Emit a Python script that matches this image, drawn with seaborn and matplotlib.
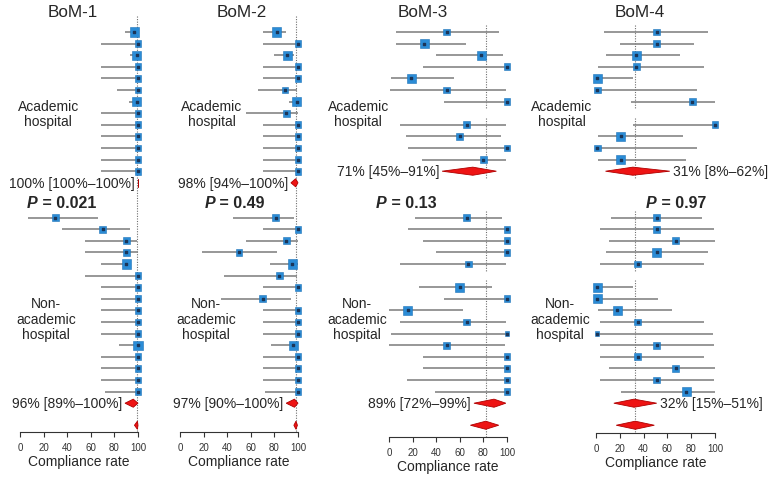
import matplotlib
matplotlib.use("Agg")
import matplotlib.pyplot as plt
import numpy as np
import pandas as pd
import seaborn as sns
from matplotlib.patches import Polygon

nan = np.nan

# ---- data: hospital estimates, 95% CI and weight class (0 small, 1 normal, 2 large)
BOM1_AC_EST = [97, 100, 99, 100, 100, 100, 99, 100, 100, 100, 100, 100, 100]
BOM1_AC_LO = [89, 69, 93, 69, 69, 82, 92, 69, 69, 69, 69, 69, 69]
BOM1_AC_HI = [100, 100, 100, 100, 100, 100, 100, 100, 100, 100, 100, 100, 100]
BOM1_AC_W = [2, 1, 2, 1, 1, 1, 2, 1, 1, 1, 1, 1, 1]
BOM1_NON_EST = [30, 70, 90, 90, 90, 100, 100, 100, 100, 100, 100, 100, 100, 100, 100, 100]
BOM1_NON_LO = [7, 36, 55, 55, 69, 55, 69, 69, 69, 69, 69, 84, 69, 69, 69, 72]
BOM1_NON_HI = [66, 93, 99, 100, 94, 100, 100, 100, 100, 100, 100, 100, 100, 100, 100, 100]
BOM1_NON_W = [1, 1, 1, 1, 2, 1, 1, 1, 1, 1, 1, 2, 1, 1, 1, 1]
BOM1_AC_SUM = [100, 100, 100]
BOM1_NON_SUM = [96, 89, 100]
BOM1_ALL = [99.5, 97, 100]
BOM1_P = "0.021"

BOM2_AC_EST = [82, 100, 91, 100, 100, 89, 99, 90, 100, 100, 100, 100, 100]
BOM2_AC_LO = [70, 70, 80, 70, 70, 66, 92, 56, 70, 70, 70, 70, 70]
BOM2_AC_HI = [90, 100, 97, 100, 100, 99, 100, 100, 100, 100, 100, 100, 100]
BOM2_AC_W = [2, 1, 2, 1, 1, 1, 2, 1, 1, 1, 1, 1, 1]
BOM2_NON_EST = [81, 100, 90, 50, 95, 84, 100, 70, 100, 100, 100, 96, 100, 100, 100, 100]
BOM2_NON_LO = [45, 70, 56, 19, 76, 37, 70, 35, 70, 70, 70, 77, 70, 70, 70, 72]
BOM2_NON_HI = [97, 100, 100, 82, 100, 99, 100, 94, 100, 100, 100, 100, 100, 100, 100, 100]
BOM2_NON_W = [1, 1, 1, 1, 2, 1, 1, 1, 1, 1, 1, 2, 1, 1, 1, 1]
BOM2_AC_SUM = [98, 94, 100]
BOM2_NON_SUM = [97, 90, 100]
BOM2_ALL = [98.3, 96.5, 99.5]
BOM2_P = "0.49"

BOM3_AC_EST = [49, 30, 78, 100, 19, 49, 100, nan, 66, 60, 100, 80]
BOM3_AC_LO = [6, 6, 40, 29, 2, 1, 47, nan, 9, 14, 16, 28]
BOM3_AC_HI = [93, 65, 97, 100, 55, 99, 100, nan, 99, 95, 100, 99]
BOM3_AC_W = [1, 2, 2, 1, 2, 1, 1, nan, 1, 1, 1, 1]
BOM3_NON_EST = [66, 100, 100, 100, 67, nan, 60, 100, 16, 66, 100, 49, 100, 100, 100, 100]
BOM3_NON_LO = [22, 16, 29, 40, 9, nan, 25, 47, 0, 9, 2, 0, 29, 29, 15, 39]
BOM3_NON_HI = [96, 100, 100, 100, 99, nan, 87, 100, 63, 99, 100, 98, 100, 100, 100, 100]
BOM3_NON_W = [1, 1, 1, 1, 1, nan, 2, 1, 2, 1, 0, 1, 1, 1, 1, 1]
BOM3_AC_SUM = [71, 45, 91]
BOM3_NON_SUM = [89, 72, 99]
BOM3_ALL = [82, 69, 93]
BOM3_P = "0.13"

BOM4_AC_EST = [51, 51, 34, 34, 1, 1, 81, nan, 100, 21, 1, 21]
BOM4_AC_LO = [7, 20, 8, 2, 0, 0, 29, nan, 31, 2, 0, 2]
BOM4_AC_HI = [94, 82, 71, 91, 31, 85, 100, nan, 100, 73, 85, 76]
BOM4_AC_W = [1, 1, 2, 1, 2, 1, 1, nan, 1, 2, 1, 2]
BOM4_NON_EST = [51, 51, 67, 51, 35, nan, 1, 1, 18, 35, 1, 51, 35, 67, 51, 76]
BOM4_NON_LO = [13, 3, 11, 8, 3, nan, 0, 0, 2, 3, 0, 3, 3, 11, 3, 21]
BOM4_NON_HI = [89, 99, 100, 94, 91, nan, 31, 52, 64, 91, 98, 99, 91, 100, 99, 100]
BOM4_NON_W = [1, 1, 1, 2, 1, nan, 2, 2, 2, 1, 0, 1, 1, 1, 1, 2]
BOM4_AC_SUM = [31, 8, 62]
BOM4_NON_SUM = [32, 15, 51]
BOM4_ALL = [33, 17, 49]
BOM4_P = "0.97"

TICKS = [0, 20, 40, 60, 80, 100]

# ---- layout (pixels of the 778x481 canvas, row slots)
W, H = 778, 481
Y0, ROW = 33, 11.6  # pixel of slot 0, pixels per slot
TOP_PX = 6
NON_START = 16
ALL_SLOT = 33.9
TITLE_SLOT = -1.8
P_SLOT = 14.7
AC_LABEL_SLOT = 7.0
NON_LABEL_SLOT = 24.7

LAYOUT = {
    "BoM-1": dict(px0=20, px100=138, axis_px=433, title_x=45, ac_x=24, non_x=22, p_x=15, side="left", gaps=False),
    "BoM-2": dict(px0=180, px100=298, axis_px=433, title_x=52, ac_x=27, non_x=22, p_x=30, side="left", gaps=False),
    "BoM-3": dict(px0=389, px100=507, axis_px=438, title_x=29, ac_x=-26, non_x=-27, p_x=-2, side="left", gaps=True),
    "BoM-4": dict(px0=596, px100=715, axis_px=434, title_x=37, ac_x=-29, non_x=-30, p_x=51, side="right", gaps=True),
}

BLUE = "#2b8cd6"
BLUE_EDGE = "#1f74b8"
DOT = "#1b3558"
GREY = "#858585"
RED = "#ee1414"
RED_EDGE = "#b00000"
SQUARE_SIZES = {0: 10, 1: 25, 2: 42}


def slot_of(px):
    return (px - Y0) / ROW


def group_frame(est, lo, hi, w, start):
    df = pd.DataFrame({"est": est, "lo": lo, "hi": hi, "w": w})
    df["slot"] = np.arange(len(df)) + start
    return df


def draw_diamond(ax, summary, slot, half=0.35):
    est, lo, hi = summary
    poly = Polygon([(lo, slot), (est, slot - half), (hi, slot), (est, slot + half)],
                   closed=True, facecolor=RED, edgecolor=RED_EDGE, linewidth=0.6,
                   zorder=4, clip_on=False)
    ax.add_patch(poly)


def ref_segments(ac, non, axis_slot, gaps):
    if not gaps:
        return [(-1.4, axis_slot)]
    segs = []
    for df, end in ((ac, ac["slot"].max() + 1), (non, non["slot"].max() + 1)):
        filled = list(df.loc[df["est"].notna(), "slot"]) + [end]
        run_start = filled[0]
        prev = filled[0]
        for s in filled[1:]:
            if s != prev + 1:
                segs.append((run_start - 0.6, prev + 0.6))
                run_start = s
            prev = s
        segs.append((run_start - 0.6, prev + 0.6))
    # last run continues down to the axis
    segs[-1] = (segs[-1][0], axis_slot)
    return segs


def draw_panel(fig, name, ac, non, ac_sum, non_sum, overall, p_value):
    lay = LAYOUT[name]
    axis_slot = slot_of(lay["axis_px"])
    ax = fig.add_axes([lay["px0"] / W, 1 - lay["axis_px"] / H,
                       (lay["px100"] - lay["px0"]) / W, (lay["axis_px"] - TOP_PX) / H])

    rows = pd.concat([ac, non], ignore_index=True).dropna()
    ax.hlines(rows["slot"], rows["lo"], rows["hi"], color=GREY, linewidth=1.2, zorder=2, clip_on=False)
    sns.scatterplot(data=rows, x="est", y="slot", size="w", sizes=SQUARE_SIZES, marker="s",
                    color=BLUE, edgecolor=BLUE_EDGE, linewidth=0.4, legend=False, ax=ax,
                    zorder=3, clip_on=False)
    ax.scatter(rows["est"], rows["slot"], s=1.2, marker="s", color=DOT, zorder=4, clip_on=False)

    ac_slot = ac["slot"].max() + 1
    non_slot = non["slot"].max() + 1
    for summary, slot in ((ac_sum, ac_slot), (non_sum, non_slot)):
        draw_diamond(ax, summary, slot)
        est, lo, hi = summary
        label = f"{est}% [{lo}%\u2013{hi}%]"
        if lay["side"] == "left":
            ax.annotate(label, (lo, slot), xytext=(-2.2, 0), textcoords="offset points",
                        ha="right", va="center", fontsize=10, annotation_clip=False)
        else:
            ax.annotate(label, (hi, slot), xytext=(2.2, 0), textcoords="offset points",
                        ha="left", va="center", fontsize=10, annotation_clip=False)
    draw_diamond(ax, overall, ALL_SLOT)

    for top, bottom in ref_segments(ac, non, axis_slot, lay["gaps"]):
        ax.vlines(overall[0], top, bottom, color="#6f6f6f", linestyle=(0, (1, 1.3)),
                  linewidth=0.8, zorder=1, clip_on=False)

    ax.text(lay["title_x"], TITLE_SLOT, name, ha="center", va="center", fontsize=12.3, clip_on=False)
    ax.text(lay["ac_x"], AC_LABEL_SLOT, "Academic\nhospital", ha="center", va="center",
            multialignment="center", fontsize=10, linespacing=1.1, clip_on=False)
    ax.text(lay["non_x"], NON_LABEL_SLOT, "Non-\nacademic\nhospital", ha="center", va="center",
            multialignment="center", fontsize=10, linespacing=1.1, clip_on=False)
    ax.text(lay["p_x"], P_SLOT, "P", ha="right", va="center", fontsize=11.5,
            fontweight="bold", fontstyle="italic", clip_on=False)
    ax.text(lay["p_x"], P_SLOT, " = " + p_value, ha="left", va="center", fontsize=11.5,
            fontweight="bold", clip_on=False)

    ax.set_xlim(0, 100)
    ax.set_ylim(axis_slot, slot_of(TOP_PX))
    ax.set_xticks(TICKS)
    ax.set_xticklabels([str(t) for t in TICKS])
    ax.set_yticks([])
    ax.set_ylabel("")
    ax.set_xlabel("Compliance rate", fontsize=10, labelpad=2)
    ax.tick_params(axis="x", direction="out", length=3.5, width=0.8, pad=3.5,
                   labelsize=7, colors="#333333", bottom=True)
    for side in ("left", "right", "top"):
        ax.spines[side].set_visible(False)
    ax.spines["bottom"].set_color("#333333")
    ax.spines["bottom"].set_linewidth(0.8)
    ax.spines["bottom"].set_bounds(0, 100)
    ax.patch.set_alpha(0)


sns.set_style("white")
plt.rcParams["font.family"] = ["Liberation Sans", "DejaVu Sans"]

fig = plt.figure(figsize=(W / 100, H / 100), dpi=100)

panels = [
    ("BoM-1", (BOM1_AC_EST, BOM1_AC_LO, BOM1_AC_HI, BOM1_AC_W),
     (BOM1_NON_EST, BOM1_NON_LO, BOM1_NON_HI, BOM1_NON_W), BOM1_AC_SUM, BOM1_NON_SUM, BOM1_ALL, BOM1_P),
    ("BoM-2", (BOM2_AC_EST, BOM2_AC_LO, BOM2_AC_HI, BOM2_AC_W),
     (BOM2_NON_EST, BOM2_NON_LO, BOM2_NON_HI, BOM2_NON_W), BOM2_AC_SUM, BOM2_NON_SUM, BOM2_ALL, BOM2_P),
    ("BoM-3", (BOM3_AC_EST, BOM3_AC_LO, BOM3_AC_HI, BOM3_AC_W),
     (BOM3_NON_EST, BOM3_NON_LO, BOM3_NON_HI, BOM3_NON_W), BOM3_AC_SUM, BOM3_NON_SUM, BOM3_ALL, BOM3_P),
    ("BoM-4", (BOM4_AC_EST, BOM4_AC_LO, BOM4_AC_HI, BOM4_AC_W),
     (BOM4_NON_EST, BOM4_NON_LO, BOM4_NON_HI, BOM4_NON_W), BOM4_AC_SUM, BOM4_NON_SUM, BOM4_ALL, BOM4_P),
]

for name, ac_vals, non_vals, ac_sum, non_sum, overall, p_value in panels:
    ac = group_frame(*ac_vals, start=0)
    non = group_frame(*non_vals, start=NON_START)
    draw_panel(fig, name, ac, non, ac_sum, non_sum, overall, p_value)

fig.savefig("out.png", dpi=100)
